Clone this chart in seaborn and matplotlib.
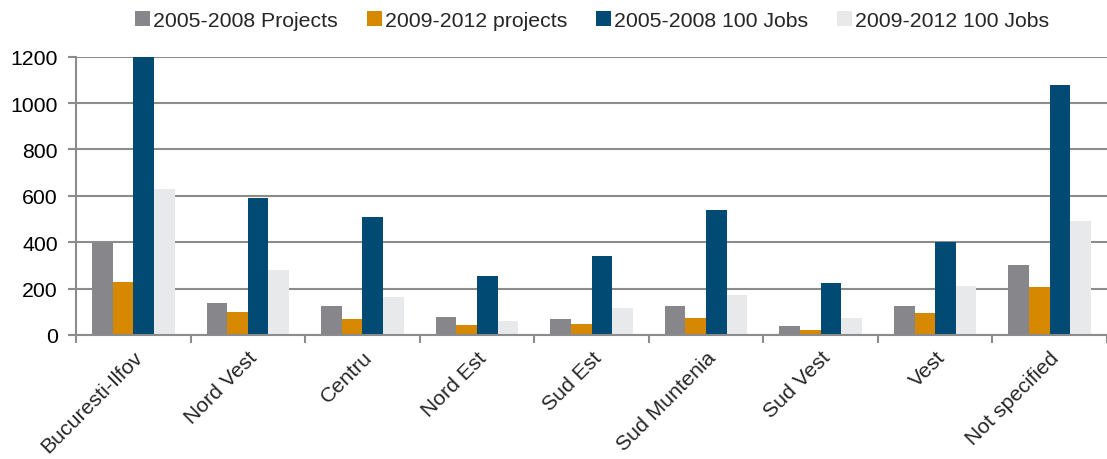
import matplotlib
matplotlib.use("Agg")
import matplotlib.pyplot as plt
import seaborn as sns
import pandas as pd
import numpy as np

regions = ["Bucuresti-Ilfov", "Nord Vest", "Centru", "Nord Est", "Sud Est",
           "Sud Muntenia", "Sud Vest", "Vest", "Not specified"]
series_names = ["2005-2008 Projects", "2009-2012 projects",
                "2005-2008 100 Jobs", "2009-2012 100 Jobs"]
projects_0508 = [398, 138, 124, 76, 68, 124, 39, 126, 303]
projects_0912 = [227, 98, 68, 43, 49, 72, 20, 93, 207]
jobs_0508 = [1200, 592, 510, 254, 341, 539, 224, 400, 1078]
jobs_0912 = [630, 280, 162, 59, 116, 171, 73, 210, 492]
colors = ["#87868b", "#d68800", "#004a74", "#e8e9eb"]

rows = []
for name, vals in zip(series_names, [projects_0508, projects_0912, jobs_0508, jobs_0912]):
    for r, v in zip(regions, vals):
        rows.append({"region": r, "series": name, "value": v})
df = pd.DataFrame(rows)

sns.set_theme(style="white")
plt.rcParams["font.family"] = ["Liberation Sans", "DejaVu Sans"]

FS = 15.3
fig = plt.figure(figsize=(11.07, 4.6), dpi=100)
ax = fig.add_axes([76/1107, 1 - 336/460, (1107 - 76)/1107, (336 - 57.7)/460])

sns.barplot(data=df, x="region", y="value", hue="series", order=regions,
            hue_order=series_names, palette=colors, width=0.72,
            saturation=1, ax=ax, legend=True, linewidth=0)

ax.set_ylim(0, 1200)
ax.set_xlim(-0.5, len(regions) - 0.5)
ax.set_yticks(range(0, 1201, 200))
ax.yaxis.grid(True, color="#8c8c8c", linewidth=1.5)
ax.set_axisbelow(True)
ax.set_xlabel("")
ax.set_ylabel("")
for s in ["top", "right"]:
    ax.spines[s].set_visible(False)
for s in ["left", "bottom"]:
    ax.spines[s].set_color("#8c8c8c")
    ax.spines[s].set_linewidth(1.5)

ax.tick_params(axis="y", left=True, length=6, width=1.5, color="#8c8c8c",
               labelsize=FS, pad=7, labelcolor="#000000")
ax.tick_params(axis="x", which="major", bottom=False, length=0, labelsize=FS, pad=9)
ax.set_xticks(np.arange(-0.5, len(regions), 1.0), minor=True)
ax.tick_params(axis="x", which="minor", bottom=True, length=6, width=1.5, color="#8c8c8c")
ax.set_xticks(range(len(regions)))
ax.set_xticklabels(regions, rotation=45, ha="right", rotation_mode="anchor")

handles, labels = ax.get_legend_handles_labels()
ax.get_legend().remove()
fig.legend(handles, labels, loc="upper center", bbox_to_anchor=(0.535, 1.015), ncol=4,
           frameon=False, fontsize=FS, handlelength=0.7, handleheight=0.7,
           handletextpad=0.15, columnspacing=1.35)

fig.savefig("out.png", dpi=100)
